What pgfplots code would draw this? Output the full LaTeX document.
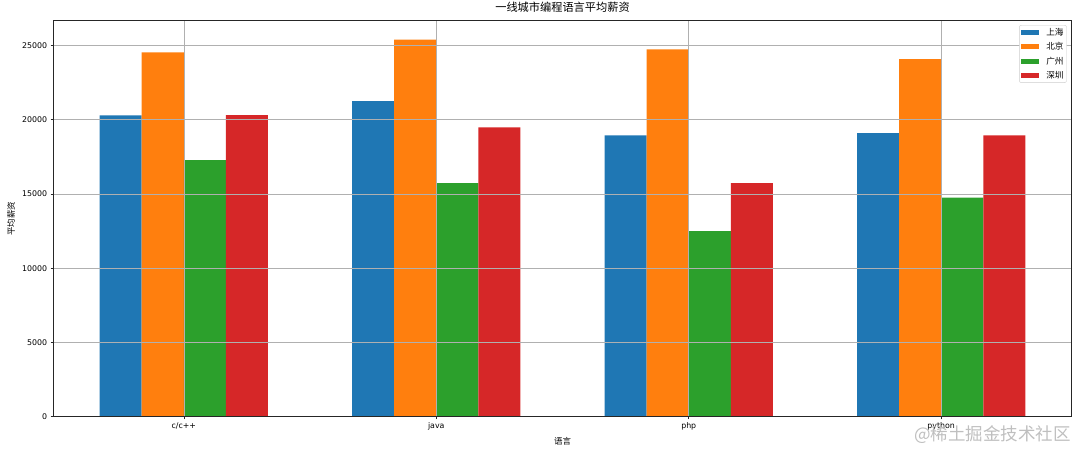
\documentclass[border=0pt]{standalone}
\usepackage{fontspec}
\usepackage{pgfplots}
\pgfplotsset{compat=1.18}
\setmainfont{DejaVu Sans}
\newfontfamily\cjk{Noto Sans CJK SC}

\definecolor{tabblue}{HTML}{1F77B4}
\definecolor{taborange}{HTML}{FF7F0E}
\definecolor{tabgreen}{HTML}{2CA02C}
\definecolor{tabred}{HTML}{D62728}

% x: 0 = c/c++, 1 = java, 2 = php, 3 = python
\pgfplotstableread{
x  sh     bj     gz     sz
0  20300  24530  17280  20310
1  21250  25400  15730  19480
2  18950  24740  12500  15730
3  19100  24080  14750  18950
}\salary

\begin{document}
\begin{tikzpicture}
\path[use as bounding box] (-53.3pt,-36.3pt) rectangle (1026.7pt,416.7pt);
\begin{axis}[
    at={(0pt,0pt)}, anchor=south west,
    scale only axis,
    width=1018.4pt, height=396pt,
    ybar=0pt, bar width=0.16667,
    xmin=-0.517, xmax=3.517,
    ymin=0, ymax=26670,
    xtick={0,1,2,3},
    xticklabels={c/c++,java,php,python},
    ytick={0,5000,10000,15000,20000,25000},
    scaled y ticks=false,
    /pgf/number format/1000 sep={},
    /pgf/number format/assume math mode=true,
    tick label style={font=\fontsize{7.85}{9}\selectfont},
    tick align=outside,
    xtick pos=left, ytick pos=left,
    major tick length=2.6pt,
    tick style={line width=0.6pt, black!85},
    axis line style={line width=0.6pt, black!85},
    grid=major,
    major grid style={line width=0.6pt, black!31},
    axis on top,
    title={\cjk 一线城市编程语言平均薪资},
    title style={at={(axis description cs:0.5,1)}, anchor=south, inner sep=0pt, yshift=2.5pt, font=\fontsize{11.2}{13}\selectfont},
    xlabel={\cjk 语言},
    xlabel style={at={(axis description cs:0.5,-0.0631)}, anchor=center, inner sep=0pt, font=\fontsize{8.5}{10}\selectfont},
    ylabel={\cjk 平均薪资},
    ylabel style={at={(axis description cs:-0.0415,0.5)}, anchor=center, inner sep=0pt, font=\fontsize{8.5}{10}\selectfont},
    legend style={at={(rel axis cs:0.9951,0.989)}, anchor=north east,
        draw=black!20, rounded corners=2pt, fill=white,
        font=\cjk\fontsize{8.6}{10}\selectfont,
        inner sep=2pt, row sep=3.5pt,
        nodes={inner sep=1pt}},
    legend cell align=left,
    legend image code/.code={\fill[#1, sharp corners] (0pt,-2.6pt) rectangle (18pt,2.6pt); \path (24pt,0pt);},
]
\addplot[fill=tabblue, draw=none] table[x=x, y=sh] {\salary};
\addplot[fill=taborange, draw=none] table[x=x, y=bj] {\salary};
\addplot[fill=tabgreen, draw=none] table[x=x, y=gz] {\salary};
\addplot[fill=tabred, draw=none] table[x=x, y=sz] {\salary};
\legend{上海,北京,广州,深圳}
\end{axis}
\node[text=black!25, font=\cjk\fontsize{17.5}{20}\selectfont] at (939pt,-18.3pt) {@稀土掘金技术社区};
\end{tikzpicture}
\end{document}
